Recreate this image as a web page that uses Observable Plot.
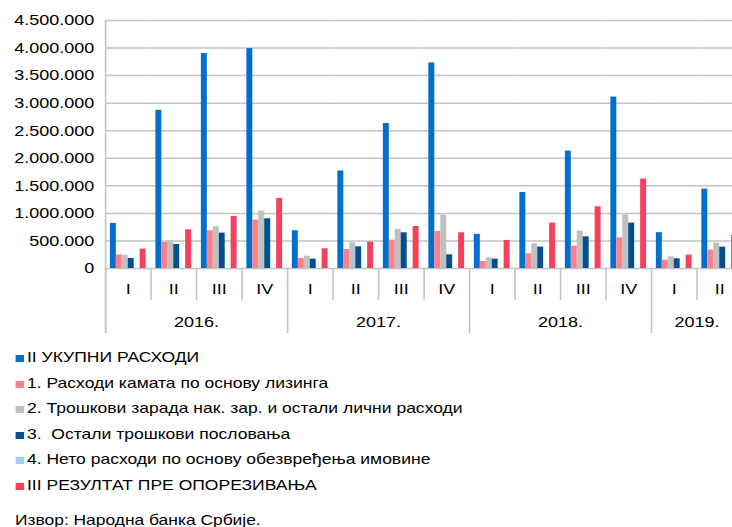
<!DOCTYPE html>
<html>
<head>
<meta charset="utf-8">
<script src="https://cdn.jsdelivr.net/npm/d3@7"></script>
<script src="https://cdn.jsdelivr.net/npm/@observablehq/plot@0.6"></script>
<style>
html, body { margin: 0; padding: 0; background: #fff; overflow: hidden; width: 732px; height: 527px; }
#wrap { position: absolute; left: 0; top: 0; width: 620px; height: 527px; transform: scaleX(1.2); transform-origin: 0 0;
  font-family: "Liberation Sans", Arial, sans-serif; color: #000; }
.layer { position: absolute; left: 0; top: 0; }
.row { position: absolute; left: 12.5px; height: 20px; line-height: 20px; font-size: 14.6px; white-space: pre; }
.sw { display: inline-block; width: 7px; height: 7px; margin-right: 3px; vertical-align: 0px; }
#source { position: absolute; left: 12.5px; height: 20px; line-height: 20px; font-size: 14.5px; white-space: pre; }
</style>
</head>
<body>
<div id="wrap">
  <div id="chart" class="layer"></div>
  <div id="axis" class="layer"></div>
  <div id="legend"></div>
  <div id="source"></div>
</div>
<script>
// ---- data ----
const years = ["2016.", "2017.", "2018.", "2019."];
const periodYear = ["2016.","2016.","2016.","2016.","2017.","2017.","2017.","2017.","2018.","2018.","2018.","2018.","2019.","2019."];
const periodQuarter = ["I","II","III","IV","I","II","III","IV","I","II","III","IV","I","II"];

const seriesNames = [
  "II УКУПНИ РАСХОДИ",
  "1. Расходи камата по основу лизинга",
  "2. Трошкови зарада нак. зар. и остали лични расходи",
  "3.  Остали трошкови пословања",
  "4. Нето расходи по основу обезвређења имовине",
  "III РЕЗУЛТАТ ПРЕ ОПОРЕЗИВАЊА"
];
const seriesColors = ["#0070cc", "#ff808a", "#c0c0c0", "#00508f", "#9fd0ef", "#f5405f"];

const totalExpenses   = [818000, 2870000, 3900000, 3990000, 685000, 1770000, 2630000, 3730000, 620000, 1380000, 2130000, 3110000, 650000, 1440000];
const leasingInterest = [245000, 472000, 684000, 878000, 182000, 345000, 515000, 672000, 127000, 266000, 406000, 557000, 151000, 333000];
const wageCosts       = [240000, 503000, 757000, 1042000, 224000, 466000, 709000, 969000, 194000, 448000, 678000, 969000, 212000, 460000];
const otherCosts      = [182000, 436000, 642000, 902000, 170000, 394000, 648000, 248000, 170000, 388000, 575000, 824000, 176000, 388000];
const impairment      = [0, 0, 0, 0, 0, 0, 0, 0, 0, 0, 0, 0, 0, 0];
const profitBeforeTax = [351000, 703000, 945000, 1272000, 357000, 478000, 763000, 648000, 509000, 824000, 1120000, 1623000, 242000, 600000];

const seriesValues = [totalExpenses, leasingInterest, wageCosts, otherCosts, impairment, profitBeforeTax];
const sourceText = "Извор: Народна банка Србије.";

// ---- derived tables ----
const periodKeys = periodYear.map((y, i) => y + " " + periodQuarter[i]);
const rows = [];
periodKeys.forEach((k, i) => seriesNames.forEach((s, j) => rows.push({period: k, series: s, value: seriesValues[j][i]})));
const periods = periodKeys.map((k, i) => ({i, q: periodQuarter[i], y: periodYear[i]}));
const yearSpans = years.map(y => {
  const idx = periods.filter(p => p.y === y).map(p => p.i);
  return {year: y, start: d3.min(idx), end: d3.max(idx) + 1};
});

const locale = d3.formatLocale({decimal: ",", thousands: ".", grouping: [3], currency: ["", ""]});
const fmt = locale.format(",");

const W = 620, ML = 87.5, MR = W - 618.3;
const font = "'Liberation Sans', Arial, sans-serif";
const gridColor = "#c3c3c3";

const chart = Plot.plot({
  width: W, height: 270,
  marginLeft: ML, marginRight: MR, marginTop: 20, marginBottom: 2,
  fx: {domain: periodKeys, paddingInner: 0, paddingOuter: 0, round: false, axis: null, label: null},
  x: {domain: seriesNames, paddingInner: 0, paddingOuter: 0.82, round: false, axis: null},
  y: {domain: [0, 4500000], ticks: 9, tickFormat: fmt, tickSize: 0, tickPadding: 9.5, label: null},
  color: {domain: seriesNames, range: seriesColors},
  style: {fontFamily: font, fontSize: "15px", color: "#000", background: "transparent", overflow: "visible"},
  marks: [
    Plot.ruleY(d3.ticks(0, 4500000, 9), {stroke: gridColor, strokeWidth: 1.5}),
    Plot.barY(rows, {fx: "period", x: "series", y: "value", fill: "series"})
  ]
});
document.getElementById("chart").appendChild(chart);

const axis = Plot.plot({
  width: W, height: 334,
  marginLeft: ML, marginRight: MR, marginTop: 20, marginBottom: 0,
  x: {domain: [0, periods.length], axis: null},
  y: {axis: null},
  style: {fontFamily: font, fontSize: "15px", color: "#000", background: "transparent", overflow: "visible"},
  marks: [
    Plot.ruleX([0], {stroke: gridColor, strokeWidth: 1.3, insetBottom: 1}),
    Plot.ruleX(periods.filter(p => p.q !== "I"), {x: "i", stroke: gridColor, strokeWidth: 1.3, insetTop: 248, insetBottom: 34}),
    Plot.ruleX(yearSpans, {x: "start", stroke: gridColor, strokeWidth: 1.3, insetTop: 248, insetBottom: 1}),
    Plot.text(periods, {x: d => d.i + 0.5, text: "q", frameAnchor: "top", lineAnchor: "middle", dy: 269, fill: "#000"}),
    Plot.text(yearSpans, {x: d => (d.start + d.end) / 2, text: "year", frameAnchor: "top", lineAnchor: "middle", dy: 302, fill: "#000"})
  ]
});
document.getElementById("axis").appendChild(axis);

// ---- legend ----
const legend = document.getElementById("legend");
const rowCenters = [357, 382.5, 408, 433.5, 459, 484.5];
seriesNames.forEach((s, j) => {
  const r = document.createElement("div");
  r.className = "row";
  r.style.top = (rowCenters[j] - 10) + "px";
  const sw = document.createElement("span");
  sw.className = "sw";
  sw.style.background = seriesColors[j];
  r.appendChild(sw);
  r.appendChild(document.createTextNode(s));
  legend.appendChild(r);
});
const src = document.getElementById("source");
src.style.top = (520 - 10) + "px";
src.textContent = sourceText;
</script>
</body>
</html>
